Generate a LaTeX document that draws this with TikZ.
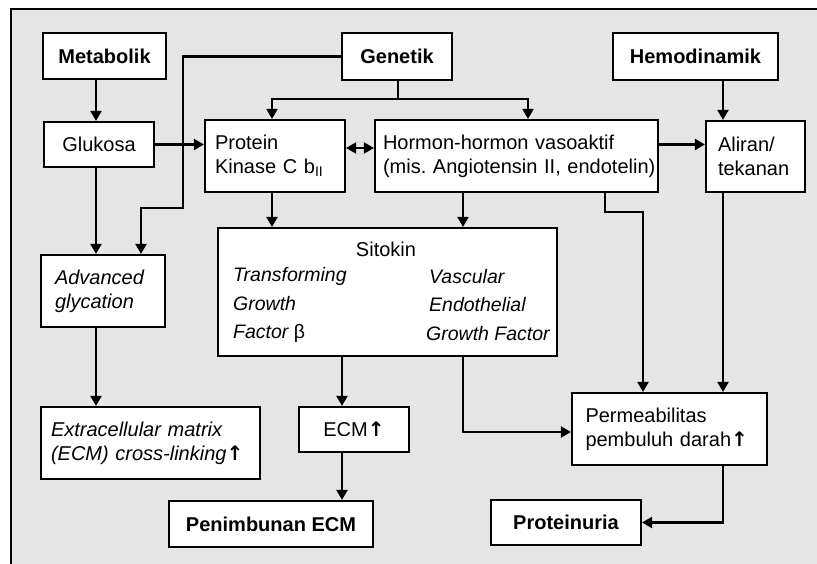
\documentclass[tikz,border=0pt]{standalone}
\usepackage{fontspec}
\setmainfont{Liberation Sans}
\newfontfamily\panahfont{DejaVu Sans}
\newcommand{\naik}{{\panahfont\upshape\bfseries ↑}}
\usetikzlibrary{arrows.meta}

\begin{document}
\begin{tikzpicture}[
    x=1pt, y=-1pt,
    font=\fontsize{20}{24}\selectfont,
    >={Triangle[length=10pt,width=11pt]},
    kotak/.style={draw, fill=white, line width=2.2pt, inner sep=0pt},
    judul/.style={kotak, font=\fontsize{20}{24}\selectfont\bfseries},
    kiri/.style 2 args={kotak, align=left, inner xsep=#1, text width=#2},
    garis/.style={line width=2.2pt},
    panah/.style={garis, ->},
  ]
  \useasboundingbox (0,0) rectangle (817,564);
  \fill[black!10] (11,9) rectangle (817,564); % latar
  \draw[garis] (11,564) -- (11,9) -- (817,9);

  % baris atas
  \node[judul, minimum width=123pt, minimum height=46pt] (metabolik) at (104.5,56) {Metabolik};
  \node[judul, minimum width=110pt, minimum height=47pt] (genetik) at (397,56.5) {Genetik};
  \node[judul, minimum width=165pt, minimum height=47pt] (hemo) at (695.5,56.5) {Hemodinamik};

  % baris kedua
  \node[kotak, minimum width=110pt, minimum height=45pt] (glukosa) at (99,144.5) {Glukosa};
  \node[kiri={10pt}{120pt}, minimum height=72pt] (pkc) at (275,156)
    {Protein\\Kinase C b\textsubscript{II}};
  \node[kiri={8pt}{267pt}, minimum height=72pt] (hormon) at (516.5,156)
    {Hormon-hormon vasoaktif\\\mbox{(mis.\ Angiotensin II, endotelin)}};
  \node[kiri={12pt}{75pt}, minimum height=71pt] (aliran) at (755.5,156.5) {Aliran/\\tekanan};

  % tengah
  \node[kiri={14pt}{96pt}, minimum height=72pt, font=\fontsize{20}{24}\selectfont\itshape] (adv) at (103,291)
    {Advanced\\glycation};
  \node[kotak, minimum width=339pt, minimum height=128pt] (sitokin) at (387.5,292) {};
  \node (sitJudul) at (386,249) {Sitokin};
  \node[anchor=west, align=left, inner sep=0pt, font=\fontsize{19.5}{28.5}\selectfont\itshape] (sitKiri) at (233,305)
    {Transforming\\Growth\\Factor {\upshape β}};
  \node[anchor=west, align=left, inner sep=0pt, font=\fontsize{19.5}{28.5}\selectfont\itshape] (sitKanan) at (426,305)
    {\hspace*{3pt}Vascular\\\hspace*{3pt}Endothelial\\Growth Factor};

  % bawah
  \node[kiri={10pt}{199pt}, minimum height=72pt, font=\fontsize{20}{24}\selectfont\itshape] (ecmx) at (150.5,443)
    {Extracellular matrix\\(ECM) cross-linking\naik};
  \node[kotak, minimum width=110pt, minimum height=45pt] (ecm) at (354,429.5) {ECM\naik};
  \node[kiri={13.5pt}{168pt}, minimum height=72pt] (perm) at (669.5,429)
    {Permeabilitas\\pembuluh darah\naik};
  \node[judul, minimum width=204pt, minimum height=46pt] (penimbunan) at (271,524) {Penimbunan ECM};
  \node[judul, minimum width=150pt, minimum height=45pt] (prot) at (566,522.5) {Proteinuria};

  \coordinate (kolA) at (96,0);
  \coordinate (kolC) at (463,0);
  \coordinate (kolD) at (723,0);
  \coordinate (kolE) at (342,0);
  \coordinate (belok1) at (183,208);
  \coordinate (belok2) at (141,208);
  \coordinate (cabang) at (398,99);
  \coordinate (belok3) at (605,212);
  \coordinate (belok4) at (643,212);

  \draw[panah] (metabolik.south -| kolA) -- (glukosa.north -| kolA);
  \draw[panah] (glukosa.south -| kolA) -- (adv.north -| kolA);
  \draw[panah] (adv.south -| kolA) -- (ecmx.north -| kolA);
  \draw[panah] (genetik.west) -| (belok1) -- (belok2) -- (adv.north -| belok2);
  \draw[panah] (glukosa.east) -- (glukosa.east -| pkc.west);
  \draw[garis] (genetik.south -| cabang) -- (cabang);
  \draw[garis, <->] ([xshift=-3pt]pkc.north) |- (cabang) -| ([xshift=11.5pt]hormon.north);
  \draw[garis, <->] ([yshift=8pt]pkc.east) -- ([yshift=8pt]hormon.west);
  \draw[panah] (hormon.east |- glukosa) -- (aliran.west |- glukosa);
  \draw[panah] (hemo.south -| kolD) -- (aliran.north -| kolD);
  \draw[panah] (aliran.south -| kolD) -- (perm.north -| kolD);
  \draw[panah] (perm.south -| kolD) |- (prot.east);
  \draw[panah] ([xshift=-3pt]pkc.south) -- ([xshift=-3pt]pkc.south |- sitokin.north);
  \draw[panah] (hormon.south -| kolC) -- (sitokin.north -| kolC);
  \draw[panah] (sitokin.south -| kolC) |- ([yshift=-3pt]perm.west);
  \draw[panah] (hormon.south -| belok3) -- (belok3) -- (belok4) -- (perm.north -| belok4);
  \draw[panah] (sitokin.south -| kolE) -- (ecm.north -| kolE);
  \draw[panah] (ecm.south -| kolE) -- (penimbunan.north -| kolE);
\end{tikzpicture}
\end{document}
